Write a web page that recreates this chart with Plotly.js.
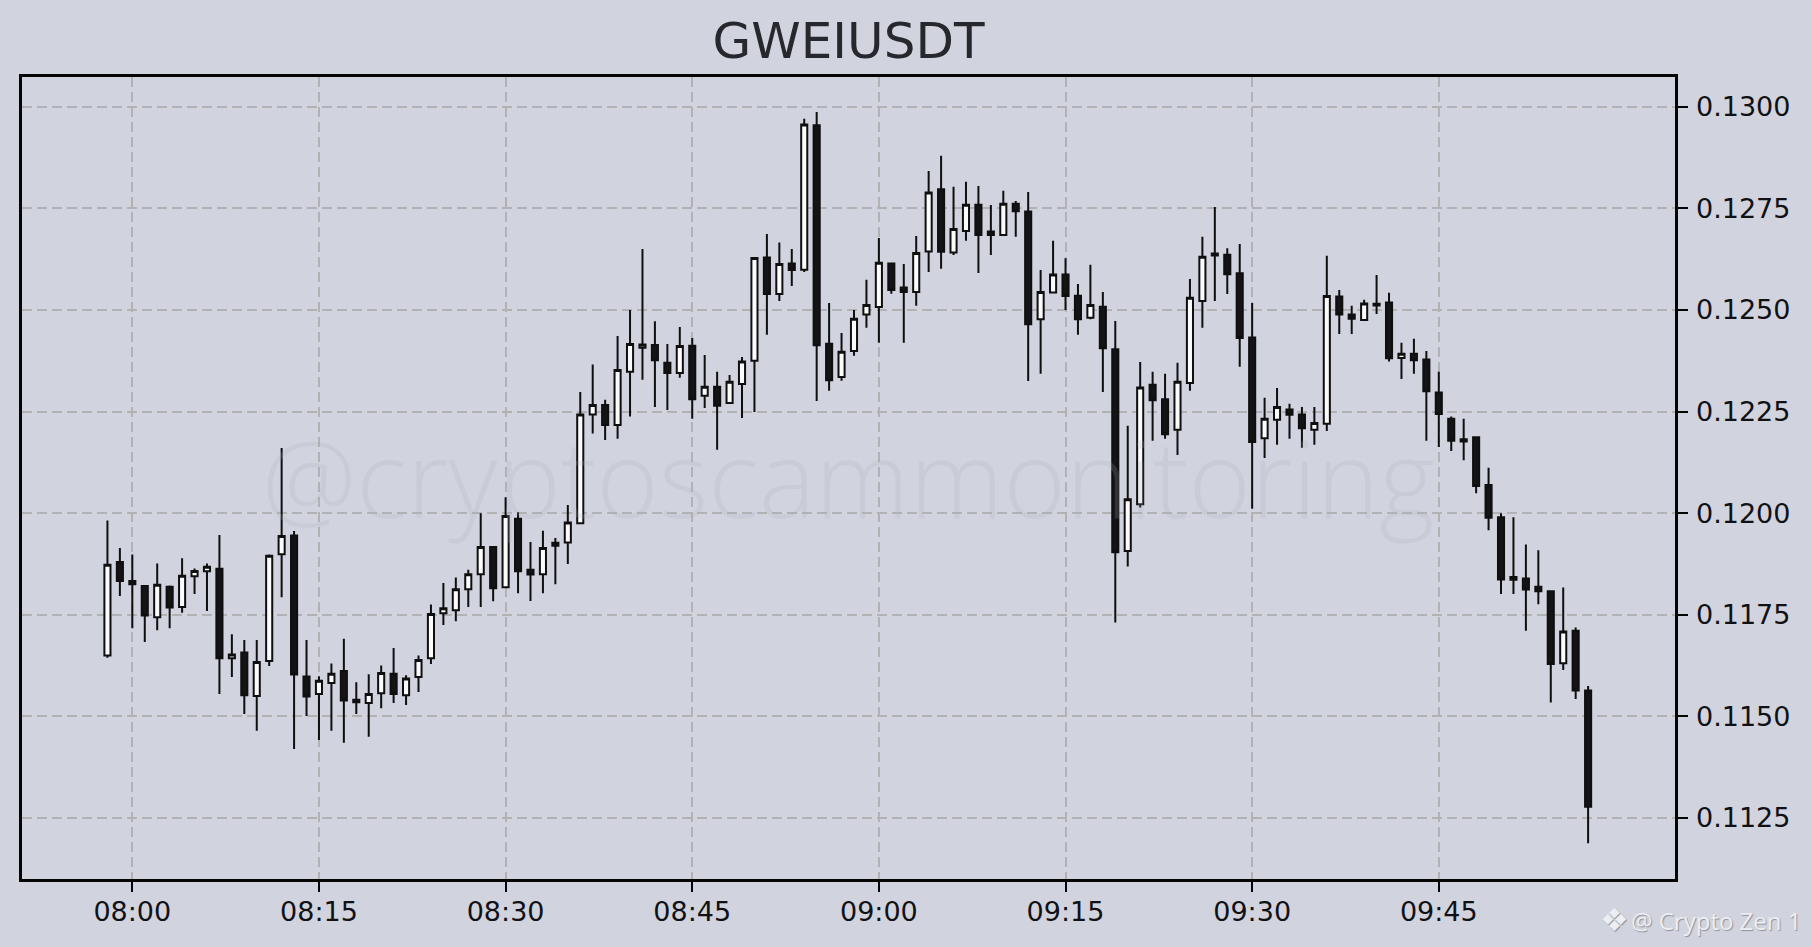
<!DOCTYPE html>
<html><head><meta charset="utf-8">
<script src="https://cdn.plot.ly/plotly-3.0.1.min.js"></script>
<style>html,body{margin:0;padding:0;background:#d1d4de;overflow:hidden}#c{width:1812px;height:947px}</style>
</head><body><div id="c"></div>
<script>
const times=["07:58","07:59","08:00","08:01","08:02","08:03","08:04","08:05","08:06","08:07","08:08","08:09","08:10","08:11","08:12","08:13","08:14","08:15","08:16","08:17","08:18","08:19","08:20","08:21","08:22","08:23","08:24","08:25","08:26","08:27","08:28","08:29","08:30","08:31","08:32","08:33","08:34","08:35","08:36","08:37","08:38","08:39","08:40","08:41","08:42","08:43","08:44","08:45","08:46","08:47","08:48","08:49","08:50","08:51","08:52","08:53","08:54","08:55","08:56","08:57","08:58","08:59","09:00","09:01","09:02","09:03","09:04","09:05","09:06","09:07","09:08","09:09","09:10","09:11","09:12","09:13","09:14","09:15","09:16","09:17","09:18","09:19","09:20","09:21","09:22","09:23","09:24","09:25","09:26","09:27","09:28","09:29","09:30","09:31","09:32","09:33","09:34","09:35","09:36","09:37","09:38","09:39","09:40","09:41","09:42","09:43","09:44","09:45","09:46","09:47","09:48","09:49","09:50","09:51","09:52","09:53","09:54","09:55","09:56","09:57"];
const opens=[.11650,.11880,.11833,.11821,.11744,.11819,.11769,.11845,.11857,.11863,.11643,.11657,.11550,.11636,.11899,.11945,.11598,.11555,.11582,.11612,.11541,.11533,.11557,.11605,.11552,.11597,.11643,.11754,.11761,.11813,.11850,.11917,.11818,.11986,.11861,.11850,.11927,.11928,.11975,.12243,.12266,.12217,.12348,.12407,.12414,.12370,.12345,.12412,.12289,.12311,.12271,.12318,.12375,.12629,.12539,.12614,.12599,.12954,.12417,.12335,.12399,.12489,.12507,.12614,.12555,.12544,.12644,.12797,.12641,.12694,.12759,.12693,.12684,.12761,.12742,.12477,.12543,.12587,.12535,.12481,.12508,.12403,.11907,.12022,.12316,.12280,.12205,.12320,.12522,.12639,.12636,.12590,.12432,.12184,.12230,.12255,.12243,.12205,.12220,.12533,.12489,.12475,.12515,.12518,.12382,.12392,.12378,.12297,.12232,.12182,.12187,.12069,.11990,.11843,.11839,.11819,.11808,.11631,.11711,.11564];
const highs=[.11982,.11914,.11898,.11823,.11876,.11822,.11889,.11864,.11876,.11946,.11702,.11688,.11688,.11898,.12160,.11956,.11688,.11599,.11630,.11691,.11584,.11604,.11625,.11668,.11601,.11650,.11775,.11828,.11842,.11861,.12000,.11917,.12039,.12002,.11929,.11957,.11939,.12020,.12298,.12366,.12279,.12436,.12500,.12650,.12472,.12416,.12458,.12431,.12389,.12348,.12340,.12384,.12628,.12687,.12666,.12650,.12970,.12987,.12517,.12443,.12500,.12574,.12677,.12614,.12613,.12682,.12842,.12879,.12803,.12815,.12805,.12758,.12793,.12768,.12790,.12598,.12670,.12627,.12564,.12611,.12544,.12473,.12215,.12372,.12348,.12343,.12370,.12576,.12680,.12753,.12652,.12662,.12517,.12284,.12308,.12269,.12261,.12261,.12633,.12549,.12510,.12525,.12586,.12542,.12419,.12429,.12399,.12348,.12238,.12232,.12187,.12112,.12000,.11990,.11923,.11909,.11808,.11817,.11719,.11575];
const lows=[.11644,.11796,.11717,.11683,.11712,.11717,.11755,.11801,.11759,.11555,.11597,.11506,.11465,.11624,.11793,.11420,.11501,.11442,.11465,.11435,.11506,.11450,.11520,.11533,.11528,.11560,.11629,.11725,.11734,.11769,.11769,.11783,.11816,.11803,.11784,.11803,.11825,.11875,.11973,.12196,.12180,.12183,.12238,.12328,.12261,.12254,.12333,.12232,.12259,.12156,.12271,.12234,.12249,.12439,.12522,.12559,.12593,.12276,.12301,.12326,.12387,.12456,.12419,.12540,.12419,.12510,.12593,.12601,.12635,.12670,.12591,.12635,.12684,.12680,.12325,.12343,.12543,.12500,.12439,.12477,.12298,.11731,.11869,.12014,.12178,.12183,.12143,.12301,.12456,.12522,.12539,.12360,.12011,.12136,.12168,.12183,.12161,.12168,.12202,.12441,.12441,.12475,.12490,.12373,.12330,.12343,.12178,.12163,.12153,.12130,.12049,.11958,.11801,.11801,.11711,.11776,.11534,.11614,.11543,.11188];
const closes=[.11873,.11833,.11825,.11748,.11824,.11768,.11846,.11858,.11868,.11643,.11652,.11552,.11634,.11895,.11944,.11603,.11549,.11588,.11605,.11539,.11535,.11555,.11607,.11555,.11593,.11639,.11752,.11766,.11813,.11850,.11917,.11815,.11993,.11857,.11849,.11914,.11920,.11977,.12243,.12266,.12217,.12352,.12416,.12415,.12376,.12345,.12411,.12280,.12311,.12264,.12323,.12373,.12628,.12539,.12613,.12598,.12956,.12413,.12327,.12397,.12478,.12512,.12616,.12549,.12544,.12640,.12789,.12643,.12699,.12759,.12684,.12684,.12761,.12743,.12465,.12544,.12587,.12534,.12477,.12512,.12406,.11904,.12034,.12309,.12278,.12194,.12323,.12530,.12631,.12634,.12588,.12431,.12175,.12232,.12261,.12242,.12209,.12222,.12534,.12489,.12478,.12516,.12511,.12381,.12392,.12376,.12300,.12244,.12178,.12176,.12067,.11989,.11837,.11836,.11812,.11808,.11629,.11709,.11564,.11278];
const xTickLabels=["08:00","08:15","08:30","08:45","09:00","09:15","09:30","09:45"];
const yTickValues=[.1125,.1150,.1175,.1200,.1225,.1250,.1275,.1300];
const day="2024-01-01 ";
const titleText="GWEIUSDT";
const watermark="@cryptoscammonitoring";
const creditIcon="❖";
const credit="@ Crypto Zen 1";

const trace={type:"candlestick",x:times.map(t=>day+t),open:opens,high:highs,low:lows,close:closes,
  increasing:{line:{color:"#0f0f10",width:2},fillcolor:"#fbfbfb"},
  decreasing:{line:{color:"#0f0f10",width:2},fillcolor:"#141416"},
  hoverinfo:"skip",showlegend:false};
const grid={showgrid:true,gridcolor:"#b2b2b5",gridwidth:2,griddash:"10px,5px",zeroline:false,
  showline:true,mirror:true,linecolor:"#050505",linewidth:2.6,ticks:"outside",ticklen:10,tickwidth:2,tickcolor:"#050505",
  tickfont:{family:"DejaVu Sans",size:27,color:"#111114"}};
const PL=21.6,PR=1675.4,PT=77,PB=879.4,PW=PR-PL,PH=PB-PT;
const layout={width:1812,height:947,paper_bgcolor:"#d1d4de",plot_bgcolor:"#d1d4de",showlegend:false,
  margin:{l:PL,r:1812-PR,t:PT,b:947-PB,pad:0},
  title:{text:titleText,font:{family:"DejaVu Sans",size:50,color:"#27282e"},x:848.5/1812,xanchor:"center",y:1-40/947,yanchor:"middle"},
  xaxis:Object.assign({},grid,{type:"date",range:[day+"07:51:08",day+"10:03:59"],tickmode:"array",tickvals:xTickLabels.map(t=>day+t),ticktext:xTickLabels,rangeslider:{visible:false},automargin:false,ticklabelstandoff:-3}),
  yaxis:Object.assign({},grid,{side:"right",range:[.1110,.13073],tickmode:"array",tickvals:yTickValues,ticktext:yTickValues.map(v=>v.toFixed(4)),automargin:false,ticklabelstandoff:3}),
  annotations:[
    {text:watermark,xref:"paper",yref:"paper",x:(848-PL)/PW,y:1-(477-PT)/PH,xanchor:"center",yanchor:"middle",showarrow:false,font:{family:"Open Sans",weight:300,size:106.5,color:"rgba(170,174,188,0.2)"}},
    {text:creditIcon,xref:"paper",yref:"paper",x:(1615-PL)/PW,y:1-(920-PT)/PH,xanchor:"center",yanchor:"middle",showarrow:false,font:{family:"DejaVu Sans",size:32,color:"#eceef2",shadow:"1px 1px 1px #8f919c"}},
    {text:credit,xref:"paper",yref:"paper",x:(1804-PL)/PW,y:1-(921-PT)/PH,xanchor:"right",yanchor:"middle",showarrow:false,font:{family:"Open Sans",size:24,color:"#eceef2",shadow:"1px 1px 1px #8f919c"}}
  ]};
Plotly.newPlot("c",[trace],layout,{staticPlot:true,displayModeBar:false});
</script></body></html>
